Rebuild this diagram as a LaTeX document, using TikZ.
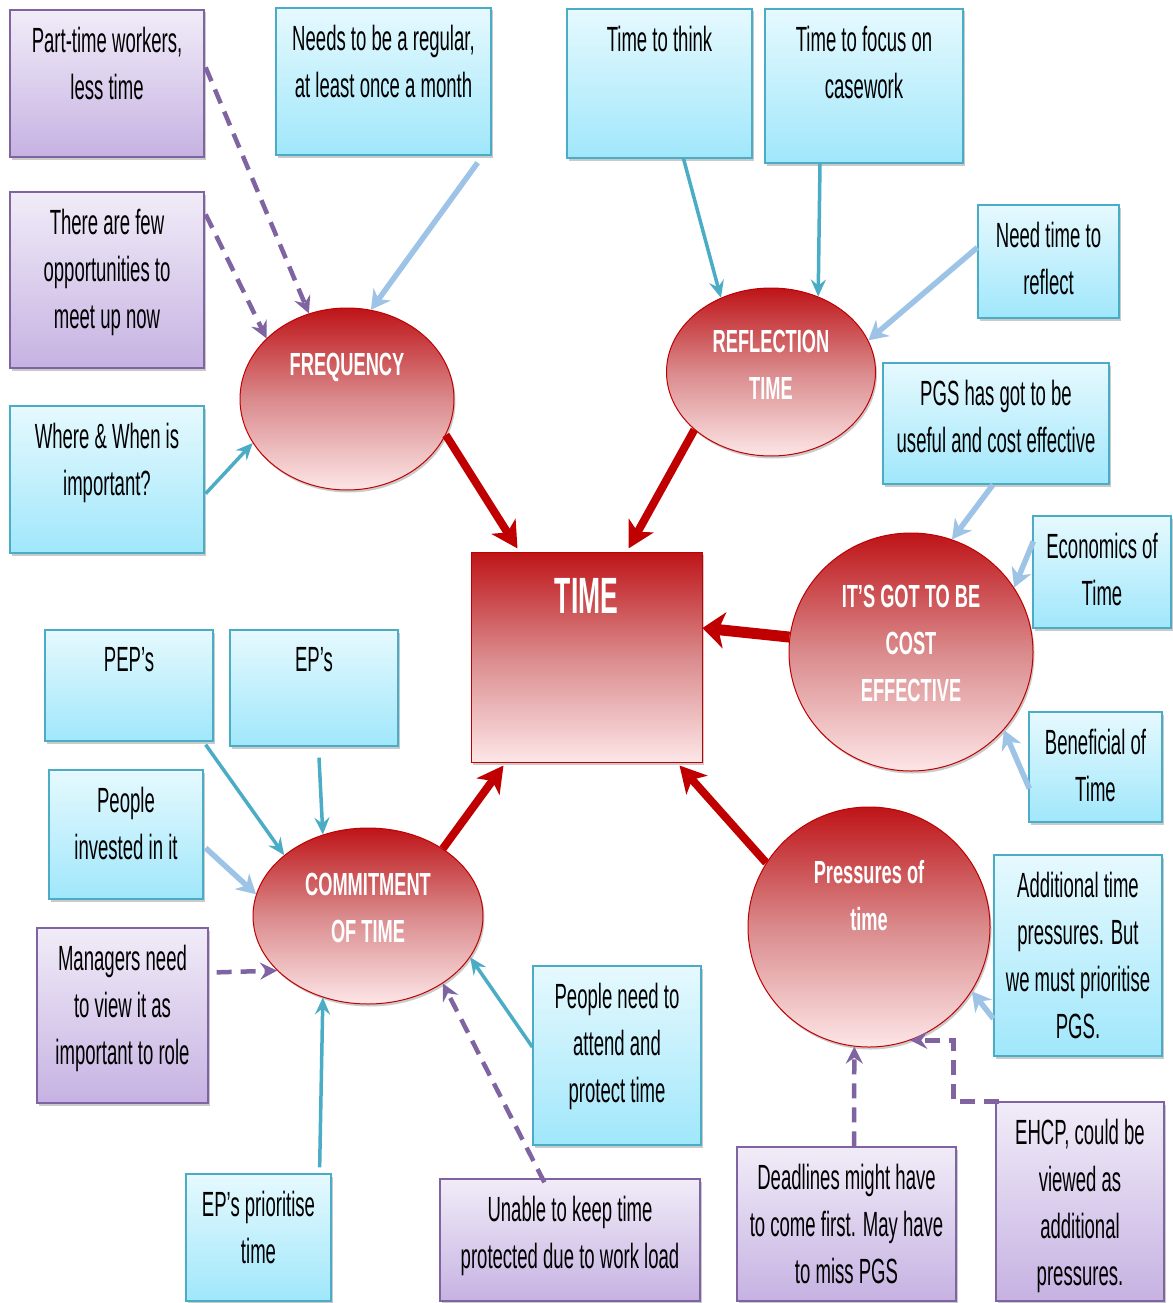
\documentclass[tikz,border=0pt]{standalone}
\usepackage{fontspec}
\usetikzlibrary{shapes.geometric,arrows.meta,shadows,calc}

\newfontfamily\boxfont[FakeStretch=0.53]{Liberation Sans}
\newfontfamily\hubfont[FakeStretch=0.57]{Liberation Sans}
\newfontfamily\titlefont[FakeStretch=0.52]{Liberation Sans}

\definecolor{cyantop}{HTML}{E6F9FE}
\definecolor{cyanbot}{HTML}{A0E7FB}
\definecolor{cyanedge}{HTML}{4BACC6}
\definecolor{lilactop}{HTML}{F1ECF8}
\definecolor{lilacbot}{HTML}{C6B2E2}
\definecolor{lilacedge}{HTML}{8064A2}
\definecolor{hubred}{HTML}{C00000}
\definecolor{hubtop}{HTML}{BE1418}
\definecolor{hubmid}{HTML}{DA8A8C}
\definecolor{hubbot}{HTML}{FDE6E7}
\definecolor{tealline}{HTML}{4BACC6}
\definecolor{skyline}{HTML}{9DC3E6}

% box with its text set at the top: style, name, x1, y1, x2, y2, text
\newcommand\topbox[7]{%
  \node[#1, minimum width={#5-#3}, minimum height={#6-#4}] (#2) at ({(#3+#5)/2},{(#4+#6)/2}) {};
  \node[boxtext] (#2-t) at ($(#2.north)+(0,18)$) {#7};
}

\begin{document}
\begin{tikzpicture}[x=1pt,y=-1pt,
  boxshadow/.style={drop shadow={shadow xshift=1.5pt,shadow yshift=-2.5pt,opacity=0.35,fill=black!60}},
  cyanbox/.style={rectangle, draw=cyanedge, line width=1.3pt, top color=cyantop, bottom color=cyanbot, inner sep=0pt, boxshadow},
  lilacbox/.style={rectangle, draw=lilacedge, line width=1.3pt, top color=lilactop, bottom color=lilacbot, inner sep=0pt, boxshadow},
  boxtext/.style={font=\boxfont\fontsize{35}{47}\selectfont, align=center, anchor=north, inner sep=0pt, text=black},
  hub/.style={ellipse, draw=hubred, line width=1pt, top color=hubtop, bottom color=hubbot, middle color=hubmid, inner sep=0pt, boxshadow},
  hubtext/.style={font=\hubfont\bfseries\fontsize{32}{47}\selectfont, align=center, anchor=north, inner sep=0pt, text=white},
  redarrow/.style={draw=hubred, line width=8pt, -{Stealth[length=26pt,width=28pt,inset=7pt]}},
  tealarrow/.style={draw=tealline, line width=3.5pt, -{Stealth[length=17pt,width=15pt,inset=6pt]}},
  skyarrow/.style={draw=skyline, line width=5.5pt, -{Stealth[length=19pt,width=21pt,inset=6pt]}},
  lilacarrow/.style={draw=lilacedge, line width=4.5pt, dash pattern=on 15pt off 9pt, -{Stealth[length=17pt,width=17pt,inset=6pt]}},
]
\useasboundingbox (0,0) rectangle (1172,1303);

% ---------- central square ----------
\node[rectangle, draw=hubred, line width=1pt, top color=hubtop, bottom color=hubbot, middle color=hubmid,
      inner sep=0pt, minimum width=231, minimum height=210, boxshadow] (time) at (586.5,657) {};
\node[font=\titlefont\bfseries\fontsize{51}{60}\selectfont, text=white, anchor=north, inner sep=0pt] (time-t)
      at ($(time.north)+(0,26.5)$) {TIME};

% ---------- themes ----------
\node[hub, minimum width=214, minimum height=182] (freq) at (347,399) {};
\node[hubtext] (freq-t) at (347,352.5) {FREQUENCY};

\node[hub, minimum width=209, minimum height=168] (refl) at (771,372) {};
\node[hubtext] (refl-t) at (771,329.5) {REFLECTION\\TIME};

\node[hub, minimum width=244, minimum height=238] (cost) at (911,652) {};
\node[hubtext] (cost-t) at (911,584.5) {IT’S GOT TO BE\\COST\\EFFECTIVE};

\node[hub, minimum width=230, minimum height=176] (comm) at (368,916) {};
\node[hubtext] (comm-t) at (368,872.5) {COMMITMENT\\OF TIME};

\node[hub, minimum width=242, minimum height=240] (pres) at (869,927) {};
\node[hubtext] (pres-t) at (869,860) {Pressures of\\time};

% ---------- comment boxes ----------
\topbox{lilacbox}{ptw}{10}{10}{204}{157}{Part-time workers,\\less time}
\topbox{cyanbox}{reg}{276}{8}{491}{155}{Needs to be a regular,\\at least once a month}
\topbox{lilacbox}{few}{10}{192}{204}{368}{There are few\\opportunities to\\meet up now}
\topbox{cyanbox}{where}{10}{406}{204}{553}{Where \& When is\\important?}
\topbox{cyanbox}{think}{567}{9}{752}{158}{Time to think}
\topbox{cyanbox}{focus}{765}{9}{963}{163}{Time to focus on\\casework}
\topbox{cyanbox}{reflect}{978}{205}{1119}{318}{Need time to\\reflect}
\topbox{cyanbox}{pgs}{883}{363}{1109}{484}{PGS has got to be\\useful and cost effective}
\topbox{cyanbox}{econ}{1033}{516}{1171}{628}{Economics of\\Time}
\topbox{cyanbox}{benef}{1029}{712}{1162}{822}{Beneficial of\\Time}
\topbox{cyanbox}{addl}{994}{855}{1162}{1056}{Additional time\\pressures. But\\we must prioritise\\PGS.}
\topbox{lilacbox}{ehcp}{996}{1102}{1164}{1301}{EHCP, could be\\viewed as\\additional\\pressures.}
\topbox{lilacbox}{dead}{737}{1147}{956}{1301}{Deadlines might have\\to come first. May have\\to miss PGS}
\topbox{lilacbox}{unable}{440}{1179}{700}{1301}{Unable to keep time\\protected due to work load}
\topbox{cyanbox}{prio}{186}{1174}{331}{1301}{EP’s prioritise\\time}
\topbox{lilacbox}{mgr}{37}{928}{208}{1103}{Managers need\\to view it as\\important to role}
\topbox{cyanbox}{inv}{49}{770}{203}{899}{People\\invested in it}
\topbox{cyanbox}{pep}{45}{630}{213}{741}{PEP’s}
\topbox{cyanbox}{ep}{230}{630}{398}{746}{EP’s}
\topbox{cyanbox}{pneed}{533}{966}{701}{1145}{People need to\\attend and\\protect time}

% ---------- feeders: frequency ----------
\draw[lilacarrow] ($(ptw.north east)+(1,58)$) -- (freq.114.5);
\draw[lilacarrow] ($(few.north east)+(1,23)$) -- (freq.143);
\draw[skyarrow] ($(reg.south east)+(-14,7)$) -- (freq.75);
\draw[tealarrow] ($(where.south east)+(1,-60)$) -- (freq.205);

% ---------- feeders: reflection time ----------
\draw[tealarrow] ($(think.south)+(24,0)$) -- (refl.124);
\draw[tealarrow] ($(focus.south)+(-44,0)$) -- (refl.58);
\draw[skyarrow] ($(reflect.west)+(0,-14)$) -- (refl.18);

% ---------- feeders: cost effective ----------
\draw[skyarrow] ($(pgs.south)+(-3,0)$) -- (cost.70);
\draw[skyarrow] ($(econ.north west)+(1,26)$) -- (cost.32);
\draw[skyarrow] ($(benef.south west)+(1,-34)$) -- (cost.-40);

% ---------- feeders: commitment of time ----------
\draw[tealarrow] ($(pep.south east)+(-8,3)$) -- (comm.144);
\draw[tealarrow] ($(ep.south)+(5,11)$) -- (comm.119);
\draw[skyarrow] ($(inv.east)+(2,13.5)$) -- (comm.169);
\draw[lilacarrow] ($(mgr.north east)+(8,45)$) -- (comm.211);
\draw[tealarrow] ($(prio.north east)+(-12,-6)$) -- (comm.241);
\draw[lilacarrow] ($(unable.north west)+(105,4)$) -- (comm.-42);
\draw[tealarrow] ($(pneed.west)+(0,-8.5)$) -- (comm.-22);

% ---------- feeders: pressures of time ----------
\draw[skyarrow] ($(addl.south west)+(0,-38)$) -- (pres.-32);
\draw[lilacarrow] ($(dead.north)+(7.5,0)$) -- (pres.263);
\draw[lilacarrow] ($(ehcp.north west)+(4,0)$) -- ++(-46,0) |- (pres.290);

% ---------- themes into the centre ----------
\draw[redarrow] (freq.340) -- ($(time.north west)+(47,-3)$);
\draw[redarrow] (refl.217) -- ($(time.north west)+(158,-3)$);
\draw[redarrow, line width=11pt, -{Stealth[length=22pt,width=36pt,inset=6pt]}] (cost.173) -- ($(time.east)+(0,-29)$);
\draw[redarrow] (comm.42) -- ($(time.south west)+(33,3)$);
\draw[redarrow] (pres.148) -- ($(time.south west)+(209,3)$);
\end{tikzpicture}
\end{document}
